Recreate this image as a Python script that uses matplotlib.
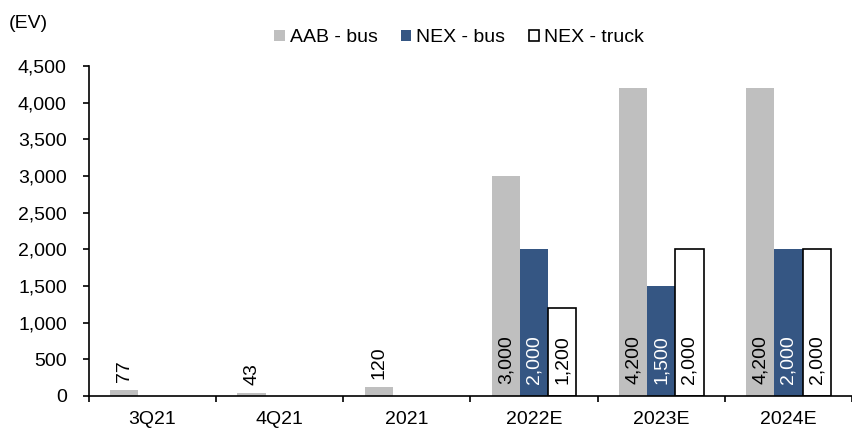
import matplotlib
matplotlib.use('Agg')
from matplotlib import pyplot as plt
import numpy as np

plt.rcParams['font.family'] = ['Liberation Sans', 'DejaVu Sans']

categories = ['3Q21', '4Q21', '2021', '2022E', '2023E', '2024E']
aab_bus = [77, 43, 120, 3000, 4200, 4200]
nex_bus = [None, None, None, 2000, 1500, 2000]
nex_truck = [None, None, None, 1200, 2000, 2000]

series = [
    ('AAB - bus', aab_bus, '#BFBFBF', 'none', 'black'),
    ('NEX - bus', nex_bus, '#355683', 'none', 'white'),
    ('NEX - truck', nex_truck, 'white', 'black', 'black'),
]

fs = 14
fig = plt.figure(figsize=(8.52, 4.32), dpi=100)
ax = fig.add_axes([89 / 852, 36 / 432, 1 - 89 / 852, 330 / 432])

x = np.arange(len(categories))
w = 0.222
for i, (name, vals, color, edge, tcolor) in enumerate(series):
    xs = [xi + (i - 1) * w for xi, v in zip(x, vals) if v is not None]
    vs = [v for v in vals if v is not None]
    ax.bar(xs, vs, w, color=color, edgecolor=edge, linewidth=1.2 if edge != 'none' else 0,
           label=name)
    for xx, v in zip(xs, vs):
        # small bars get their label just above, big ones inside at the base
        ypos = v + 110 if v < 500 else 160
        ax.text(xx, ypos, f'{v:,}', rotation=90, ha='center', va='bottom',
                fontsize=fs, color=tcolor)

ax.set_xlim(-0.5, 5.415)
ax.set_ylim(0, 4500)
ax.set_yticks(np.arange(0, 4501, 500))
ax.set_yticklabels([f'{t:,}' for t in range(0, 4501, 500)])
ax.set_xticks(x)
ax.set_xticklabels(categories)
ax.set_xticks(np.arange(-0.5, 6, 1), minor=True)
ax.tick_params(axis='x', which='major', length=0, labelsize=fs, pad=11)
ax.tick_params(axis='x', which='minor', length=4, width=1.2, direction='out')
ax.tick_params(axis='y', length=4, width=1.2, labelsize=fs, direction='out', pad=12)
for s in ['top', 'right']:
    ax.spines[s].set_visible(False)
for s in ['left', 'bottom']:
    ax.spines[s].set_linewidth(1.2)

fig.text(9 / 852, 1 - 24 / 432, '(EV)', fontsize=fs, va='center', ha='left')
fig.legend(loc='center', bbox_to_anchor=(459 / 852, 1 - 38 / 432), ncol=3, frameon=False,
           fontsize=fs, handlelength=0.55, handleheight=0.55, handletextpad=0.25,
           columnspacing=1.2)

fig.savefig('out.png', dpi=100)
